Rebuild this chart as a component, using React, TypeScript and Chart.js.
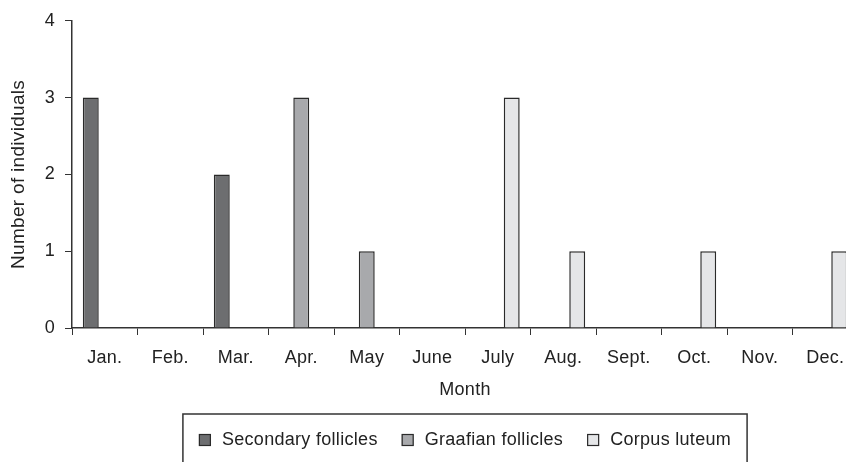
import React, { useEffect, useRef } from "react";
import { Chart, registerables } from "chart.js";

Chart.register(...registerables);

const months = ["Jan.", "Feb.", "Mar.", "Apr.", "May", "June", "July", "Aug.", "Sept.", "Oct.", "Nov.", "Dec."];
const secondaryFollicles = [3, 0, 2, 0, 0, 0, 0, 0, 0, 0, 0, 0];
const graafianFollicles = [0, 0, 0, 3, 1, 0, 0, 0, 0, 0, 0, 0];
const corpusLuteum = [0, 0, 0, 0, 0, 0, 3, 1, 0, 1, 0, 1];
const seriesLabels = ["Secondary follicles", "Graafian follicles", "Corpus luteum"];
const yAxisMin = 0;
const yAxisMax = 4;
const yAxisStep = 1;
const xTitle = "Month";
const yTitle = "Number of individuals";

const FONT = "'Liberation Sans', Arial, Helvetica, sans-serif";
const INK = "#222222";
const SPACING = "0.3px";

const spacingPlugin = {
  id: "spacing",
  beforeDraw(chart: any) {
    (chart.ctx as any).letterSpacing = SPACING;
  },
};

const boxLegend = {
  id: "boxLegend",
  afterDraw(chart: any) {
    const ctx = chart.ctx as CanvasRenderingContext2D;
    const area = chart.chartArea;
    const cx = (area.left + area.right) / 2;
    ctx.save();
    (ctx as any).letterSpacing = SPACING;
    ctx.font = `18px ${FONT}`;
    const sw = 12;
    const gapText = 11;
    const gapItem = 24;
    const items = chart.data.datasets.map((ds: any) => ({
      label: ds.label,
      color: ds.backgroundColor,
      w: ctx.measureText(ds.label).width,
    }));
    const total =
      items.reduce((s: number, it: any) => s + sw + gapText + it.w, 0) + gapItem * (items.length - 1);
    const pad = 16;
    const boxTop = 414;
    const boxLeft = cx - total / 2 - pad;
    const boxRight = cx + total / 2 + pad;
    ctx.strokeStyle = "#333";
    ctx.lineWidth = 1.5;
    ctx.strokeRect(boxLeft, boxTop, boxRight - boxLeft, 80);
    const cy = 440;
    let x = cx - total / 2;
    ctx.textBaseline = "middle";
    ctx.textAlign = "left";
    for (const it of items) {
      ctx.fillStyle = it.color;
      ctx.fillRect(x, cy - sw / 2, sw, sw);
      ctx.lineWidth = 1.2;
      ctx.strokeStyle = "#2a2a2a";
      ctx.strokeRect(x + 0.5, cy - sw / 2 + 0.5, sw - 1, sw - 1);
      ctx.fillStyle = INK;
      ctx.fillText(it.label, x + sw + gapText, cy);
      x += sw + gapText + it.w + gapItem;
    }
    ctx.restore();
  },
};

export default function App() {
  const ref = useRef<HTMLCanvasElement | null>(null);

  useEffect(() => {
    if (!ref.current) return;
    const barCommon = {
      borderColor: "#2a2a2a",
      borderWidth: 1.5,
      categoryPercentage: 0.64,
      barPercentage: 1.14,
    };
    const chart = new Chart(ref.current, {
      type: "bar",
      data: {
        labels: months,
        datasets: [
          { label: seriesLabels[0], data: secondaryFollicles, backgroundColor: "#6d6e70", ...barCommon },
          { label: seriesLabels[1], data: graafianFollicles, backgroundColor: "#a8a9ac", ...barCommon },
          { label: seriesLabels[2], data: corpusLuteum, backgroundColor: "#e5e6e8", ...barCommon },
        ],
      },
      options: {
        responsive: false,
        animation: false,
        devicePixelRatio: 1,
        layout: { padding: { left: 0, right: 12, top: 18, bottom: 59 } },
        plugins: {
          legend: { display: false },
          tooltip: { enabled: false },
        },
        scales: {
          x: {
            afterFit: (scale: any) => {
              scale.height = 75;
            },
            grid: {
              display: true,
              drawOnChartArea: false,
              drawTicks: true,
              tickLength: 7,
              color: "#333",
              lineWidth: 1,
              offset: true,
            },
            border: { display: true, color: "#333", width: 1.5 },
            ticks: {
              color: INK,
              font: { family: FONT, size: 18 },
              padding: 11.8,
              maxRotation: 0,
              autoSkip: false,
            },
            title: {
              display: true,
              text: xTitle,
              color: INK,
              font: { family: FONT, size: 18 },
              padding: { top: 0, bottom: 2.2 },
            },
          },
          y: {
            min: yAxisMin,
            max: yAxisMax,
            afterFit: (scale: any) => {
              scale.width = 72;
            },
            grid: {
              display: true,
              drawOnChartArea: false,
              drawTicks: true,
              tickLength: 7,
              color: "#333",
              lineWidth: 1,
            },
            border: { display: true, color: "#333", width: 1.5 },
            ticks: {
              stepSize: yAxisStep,
              color: INK,
              font: { family: FONT, size: 18 },
              padding: 10,
            },
            title: {
              display: true,
              text: yTitle,
              color: INK,
              font: { family: FONT, size: 19 },
              padding: { top: 7.6, bottom: 0 },
            },
          },
        },
      },
      plugins: [spacingPlugin, boxLegend],
    });
    return () => chart.destroy();
  }, []);

  return (
    <div
      style={{
        position: "absolute",
        left: 0,
        top: 0,
        width: 846,
        height: 462,
        overflow: "hidden",
        background: "#fff",
      }}
    >
      <canvas ref={ref} width={870} height={462} style={{ display: "block", width: 870, height: 462 }} />
    </div>
  );
}
